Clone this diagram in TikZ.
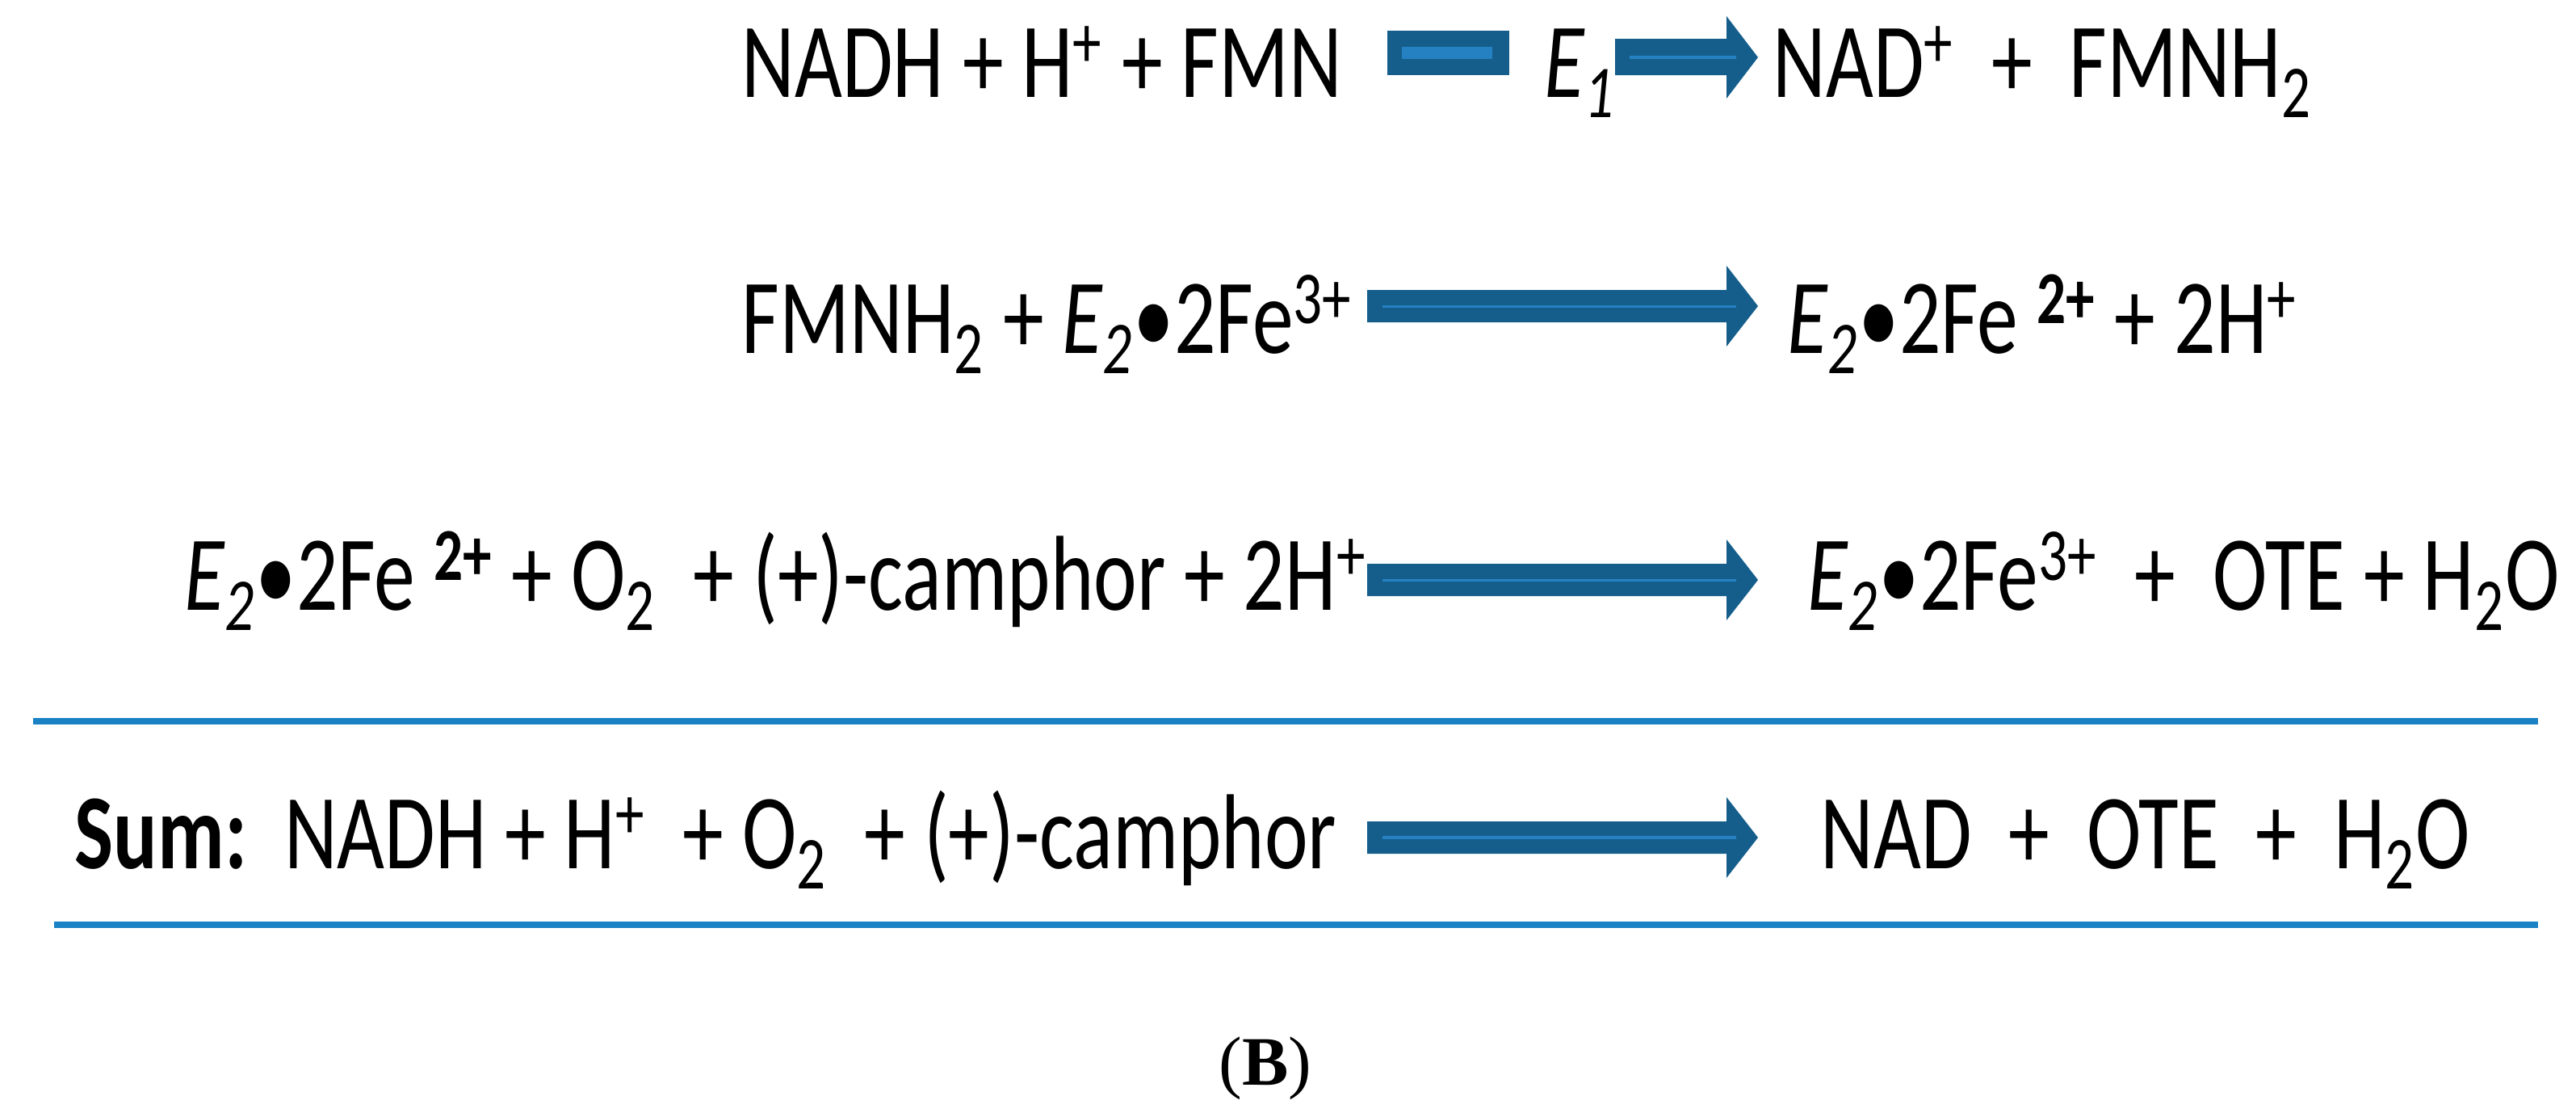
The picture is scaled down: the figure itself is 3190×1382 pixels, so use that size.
\documentclass[tikz,border=0pt]{standalone}
\usepackage{fontspec}
\setmainfont{Carlito}[FakeStretch=0.77]
\newfontfamily\bfserif{Liberation Serif}
\definecolor{adark}{RGB}{21,94,140}
\definecolor{alight}{RGB}{38,129,194}
\definecolor{rule}{RGB}{26,130,196}
\newcommand{\Etwo}{\textit{E\textsubscript{2}}\textbullet}
\begin{document}
\begin{tikzpicture}[x=0.25pt,y=-0.25pt,
  txt/.style={anchor=base west,inner sep=0pt,font=\fontsize{33}{36}\selectfont},
  arr/.style={fill=adark},
  inner/.style={fill=alight}]
\useasboundingbox (0,0) rectangle (3190,1382);
% row 1
\node[txt] (r1l) at (918,120) {NADH + H\textsuperscript{+} + FMN};
\fill[arr] (1718,38) rectangle (1869,93);
\fill[inner] (1736,58) rectangle (1848,73);
\node[txt] (e1) at (1912,120) {\textit{E\textsubscript{1}}};
\fill[arr] (2000,48) -- (2138,48) -- (2138,20) -- (2177,71) -- (2138,122) -- (2138,93) -- (2000,93) -- cycle;
\fill[inner] (2018,69) rectangle (2150,73);
\node[txt] (r1r) at (2195,120) {NAD\textsuperscript{+}\ \ + \ FMNH\textsubscript{2}};
% row 2
\node[txt] (r2l) at (918,437) {FMNH\textsubscript{2} + \Etwo 2Fe\textsuperscript{3+}};
\fill[arr] (1693,359) -- (2138,359) -- (2138,329) -- (2177,379) -- (2138,429) -- (2138,399) -- (1693,399) -- cycle;
\fill[inner] (1712,377.5) rectangle (2150,380.5);
\node[txt] (r2r) at (2213,437) {\Etwo 2Fe \textsuperscript{\textbf{2+}} + 2H\textsuperscript{+}};
% row 3
\node[txt] (r3l) at (228,755) {\Etwo 2Fe \textsuperscript{\textbf{2+}} + O\textsubscript{2}\ \ + (+)-camphor + 2H\textsuperscript{+}};
\fill[arr] (1693,698) -- (2138,698) -- (2138,668) -- (2177,718) -- (2138,768) -- (2138,738) -- (1693,738) -- cycle;
\fill[inner] (1712,716.5) rectangle (2150,719.5);
\node[txt] (r3r) at (2238,755) {\Etwo 2Fe\textsuperscript{3+}\ \ + \ OTE + H\textsubscript{2}O};
% rules
\fill[rule] (41,889) rectangle (3143,897);
\fill[rule] (67,1141) rectangle (3143,1149);
% sum
\node[txt] (sl) at (92,1075) {\textbf{Sum:}\ \ NADH + H\textsuperscript{+}\ \ + O\textsubscript{2}\ \ + (+)-camphor};
\fill[arr] (1693,1017) -- (2138,1017) -- (2138,987) -- (2177,1037) -- (2138,1087) -- (2138,1057) -- (1693,1057) -- cycle;
\fill[inner] (1712,1035) rectangle (2150,1039);
\node[txt] (sr) at (2254,1075) {NAD\ \ + \ OTE \ + \ H\textsubscript{2}O};
% label
\node[anchor=base,inner sep=0pt,font=\bfserif\fontsize{21.5}{24}\selectfont] (lab) at (1567,1343) {(\textbf{B})};
\end{tikzpicture}
\end{document}
